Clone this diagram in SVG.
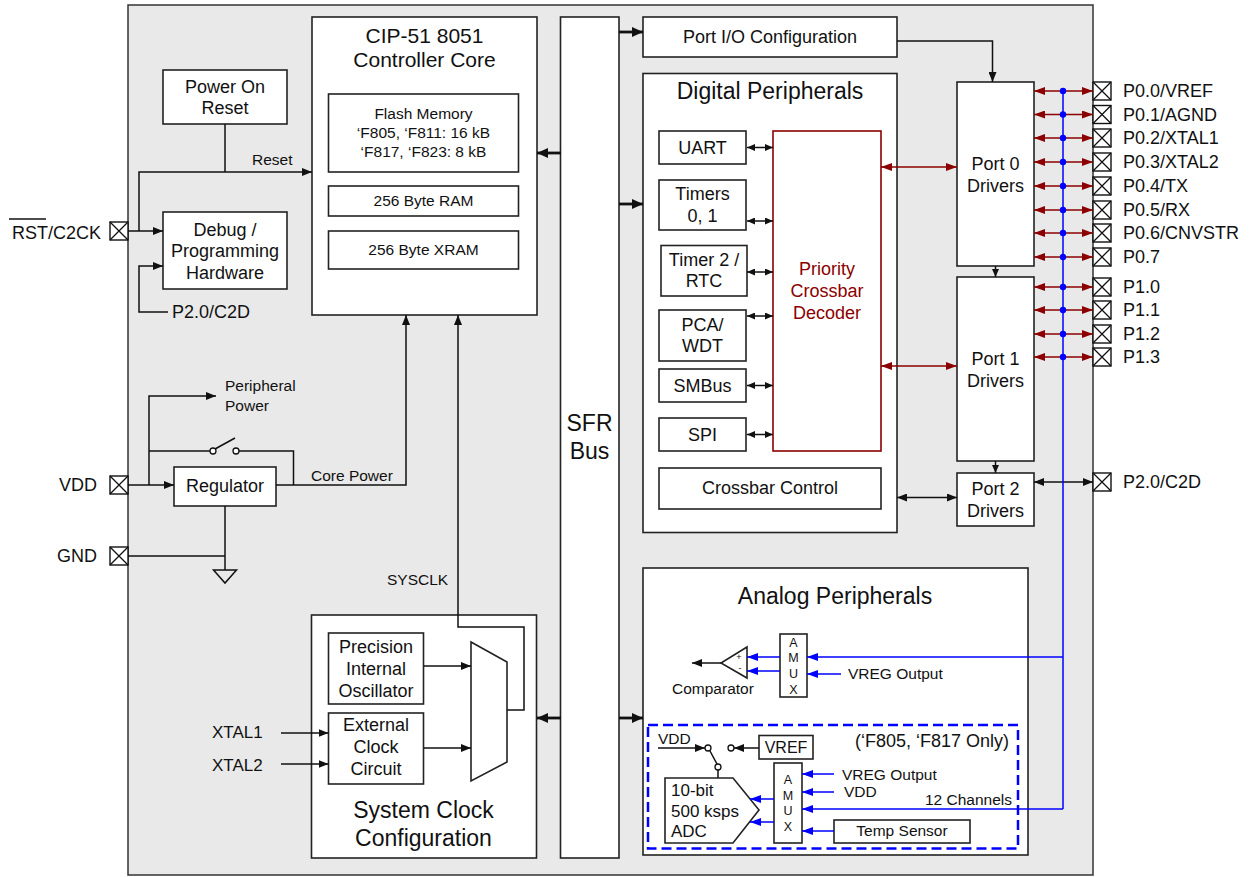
<svg xmlns="http://www.w3.org/2000/svg" width="1254" height="877" viewBox="0 0 1254 877">
<defs>
<style>
.box{fill:#fff;stroke:#222;stroke-width:1.6}
.ln{fill:none;stroke:#111;stroke-width:1.5}
.thick{fill:none;stroke:#111;stroke-width:2.8}
.red{fill:none;stroke:#8b0000;stroke-width:1.5}
.blue{fill:none;stroke:#0000ff;stroke-width:1.5}
.pin{fill:#fff;stroke:#111;stroke-width:1.4}
text{font-family:"Liberation Sans",Arial,sans-serif;fill:#111}
.t23{font-size:23px}
.t21{font-size:21px}
.t18{font-size:18px}
.t17{font-size:17px}
.t16{font-size:16px}
.t15{font-size:15.5px}
.t12{font-size:12.5px}
.c{text-anchor:middle}
.e{text-anchor:end}
.rt{fill:#8b0000}
</style>
<marker id="a" markerWidth="10" markerHeight="8" refX="10" refY="4" orient="auto-start-reverse" markerUnits="userSpaceOnUse"><path d="M0,0 L10,4 L0,8 z" fill="#111"/></marker>
<marker id="as" markerWidth="8" markerHeight="7" refX="8" refY="3.5" orient="auto-start-reverse" markerUnits="userSpaceOnUse"><path d="M0,0 L8,3.5 L0,7 z" fill="#111"/></marker>
<marker id="at" markerWidth="11" markerHeight="10" refX="11" refY="5" orient="auto-start-reverse" markerUnits="userSpaceOnUse"><path d="M0,0 L11,5 L0,10 z" fill="#111"/></marker>
<marker id="ar" markerWidth="11" markerHeight="8" refX="11" refY="4" orient="auto-start-reverse" markerUnits="userSpaceOnUse"><path d="M0,0 L11,4 L0,8 z" fill="#8b0000"/></marker>
<marker id="ab" markerWidth="11" markerHeight="8" refX="11" refY="4" orient="auto-start-reverse" markerUnits="userSpaceOnUse"><path d="M0,0 L11,4 L0,8 z" fill="#0000ff"/></marker>
<g id="pinx"><rect class="pin" x="0" y="0" width="18" height="18"/><path d="M0,0 L18,18 M18,0 L0,18" stroke="#111" stroke-width="1.3"/></g>
</defs>

<g id="chip"><rect x="128" y="5" width="965" height="870" fill="#e9e9e9" stroke="#333" stroke-width="1.5"/></g>

<g id="left-pins">
<use href="#pinx" x="110" y="222"/>
<use href="#pinx" x="110" y="476"/>
<use href="#pinx" x="110" y="547"/>
<text class="t18 e" x="101" y="239">RST/C2CK</text>
<path d="M9,219 H46" stroke="#111" stroke-width="1.3"/>
<text class="t18 e" x="97" y="491">VDD</text>
<text class="t18 e" x="97" y="562">GND</text>
</g>

<g id="cip51">
<rect class="box" x="312" y="17" width="225" height="298"/>
<text class="t21 c" x="424.5" y="43">CIP-51 8051</text>
<text class="t21 c" x="424.5" y="67">Controller Core</text>
<rect class="box" x="328.5" y="94" width="190" height="78"/>
<text class="t15 c" x="423.5" y="119">Flash Memory</text>
<text class="t15 c" x="423.5" y="138">‘F805, ‘F811: 16 kB</text>
<text class="t15 c" x="423.5" y="157">‘F817, ‘F823: 8 kB</text>
<rect class="box" x="328.5" y="186" width="190" height="30"/>
<text class="t15 c" x="423.5" y="206">256 Byte RAM</text>
<rect class="box" x="328.5" y="231" width="190" height="38"/>
<text class="t15 c" x="423.5" y="255">256 Byte XRAM</text>
</g>

<g id="por">
<rect class="box" x="163" y="70" width="124" height="54"/>
<text class="t18 c" x="225" y="93">Power On</text>
<text class="t18 c" x="225" y="114">Reset</text>
</g>

<g id="debug">
<rect class="box" x="163" y="212" width="124" height="77"/>
<text class="t18 c" x="225" y="236">Debug /</text>
<text class="t18 c" x="225" y="257">Programming</text>
<text class="t18 c" x="225" y="279">Hardware</text>
</g>

<g id="regulator">
<rect class="box" x="174" y="467" width="102" height="39"/>
<text class="t18 c" x="225" y="492">Regulator</text>
</g>

<g id="sysclk">
<rect class="box" x="311.5" y="615" width="225" height="243"/>
<text class="t23 c" x="423.5" y="818">System Clock</text>
<text class="t23 c" x="423.5" y="846">Configuration</text>
<rect class="box" x="328.5" y="633" width="95" height="71"/>
<text class="t18 c" x="376" y="653">Precision</text>
<text class="t18 c" x="376" y="675">Internal</text>
<text class="t18 c" x="376" y="697">Oscillator</text>
<rect class="box" x="328.5" y="713" width="95" height="71"/>
<text class="t18 c" x="376" y="731">External</text>
<text class="t18 c" x="376" y="753">Clock</text>
<text class="t18 c" x="376" y="775">Circuit</text>
<polygon class="box" points="471,642 507,662 507,762 471,781"/>
<text class="t17" x="212" y="738">XTAL1</text>
<text class="t17" x="212" y="771">XTAL2</text>
</g>

<g id="sfr">
<rect class="box" x="560.5" y="17" width="58.5" height="841"/>
<text class="t23 c" x="589.5" y="431">SFR</text>
<text class="t23 c" x="589.5" y="459">Bus</text>
</g>

<g id="portio">
<rect class="box" x="643" y="17" width="254" height="40"/>
<text class="t18 c" x="770" y="43">Port I/O Configuration</text>
</g>

<g id="digital">
<rect class="box" x="643" y="73.5" width="254" height="459"/>
<text class="t23 c" x="770" y="99">Digital Peripherals</text>
<rect class="box" x="659" y="131" width="87" height="33"/>
<text class="t18 c" x="702.5" y="153.5">UART</text>
<rect class="box" x="659" y="180" width="87" height="50"/>
<text class="t18 c" x="702.5" y="200">Timers</text>
<text class="t18 c" x="702.5" y="222">0, 1</text>
<rect class="box" x="661" y="245.5" width="86" height="50.5"/>
<text class="t18 c" x="704" y="265.5">Timer 2 /</text>
<text class="t18 c" x="704" y="287">RTC</text>
<rect class="box" x="659" y="310" width="87" height="51"/>
<text class="t18 c" x="702.5" y="331">PCA/</text>
<text class="t18 c" x="702.5" y="352">WDT</text>
<rect class="box" x="659" y="369" width="87" height="33"/>
<text class="t18 c" x="702.5" y="392">SMBus</text>
<rect class="box" x="659" y="418" width="87" height="33"/>
<text class="t18 c" x="702.5" y="441">SPI</text>
<rect x="773" y="131" width="108" height="320" fill="#fff" stroke="#8b0000" stroke-width="1.6"/>
<text class="t18 c rt" x="827" y="275">Priority</text>
<text class="t18 c rt" x="827" y="297">Crossbar</text>
<text class="t18 c rt" x="827" y="319">Decoder</text>
<rect class="box" x="659" y="468" width="222" height="41"/>
<text class="t18 c" x="770" y="494">Crossbar Control</text>
</g>

<g id="port0">
<rect class="box" x="957" y="82" width="77" height="184"/>
<text class="t18 c" x="995.5" y="170">Port 0</text>
<text class="t18 c" x="995.5" y="192">Drivers</text>
</g>
<g id="port1">
<rect class="box" x="957" y="277" width="77" height="184"/>
<text class="t18 c" x="995.5" y="365">Port 1</text>
<text class="t18 c" x="995.5" y="387">Drivers</text>
</g>
<g id="port2">
<rect class="box" x="957" y="473" width="77" height="53"/>
<text class="t18 c" x="995.5" y="495">Port 2</text>
<text class="t18 c" x="995.5" y="517">Drivers</text>
</g>

<g id="right-pins">
<use href="#pinx" x="1093" y="82"/>
<use href="#pinx" x="1093" y="105.5"/>
<use href="#pinx" x="1093" y="129"/>
<use href="#pinx" x="1093" y="153"/>
<use href="#pinx" x="1093" y="177"/>
<use href="#pinx" x="1093" y="201"/>
<use href="#pinx" x="1093" y="224"/>
<use href="#pinx" x="1093" y="248"/>
<use href="#pinx" x="1093" y="278"/>
<use href="#pinx" x="1093" y="301"/>
<use href="#pinx" x="1093" y="325"/>
<use href="#pinx" x="1093" y="348"/>
<use href="#pinx" x="1093" y="473"/>
<text class="t18" x="1123" y="97.3">P0.0/VREF</text>
<text class="t18" x="1123" y="120.8">P0.1/AGND</text>
<text class="t18" x="1123" y="144.3">P0.2/XTAL1</text>
<text class="t18" x="1123" y="168.3">P0.3/XTAL2</text>
<text class="t18" x="1123" y="192.3">P0.4/TX</text>
<text class="t18" x="1123" y="216.3">P0.5/RX</text>
<text class="t18" x="1123" y="239.3">P0.6/CNVSTR</text>
<text class="t18" x="1123" y="263.3">P0.7</text>
<text class="t18" x="1123" y="293.3">P1.0</text>
<text class="t18" x="1123" y="316.3">P1.1</text>
<text class="t18" x="1123" y="340.3">P1.2</text>
<text class="t18" x="1123" y="363.3">P1.3</text>
<text class="t18" x="1123" y="488.3">P2.0/C2D</text>
</g>

<g id="analog">
<rect class="box" x="643" y="568" width="385" height="287"/>
<text class="t23 c" x="835" y="604">Analog Peripherals</text>
<rect class="box" x="780" y="634" width="27" height="63"/>
<text class="t12 c" x="793.5" y="647">A</text>
<text class="t12 c" x="793.5" y="662">M</text>
<text class="t12 c" x="793.5" y="678">U</text>
<text class="t12 c" x="793.5" y="694">X</text>
<polygon class="box" points="747,647 747,678 721,663"/>
<text x="739" y="660" font-size="9" text-anchor="middle">+</text>
<text x="740" y="671" font-size="9" text-anchor="middle">-</text>
<text class="t15" x="672" y="694">Comparator</text>
<text class="t15" x="848" y="679">VREG Output</text>
<rect x="648" y="725" width="370" height="123.5" fill="none" stroke="#0000ff" stroke-width="2.5" stroke-dasharray="10,5"/>
<text class="t18 e" x="1009" y="747">(‘F805, ‘F817 Only)</text>
<text class="t15" x="658" y="744">VDD</text>
<circle cx="708" cy="748" r="3" fill="#fff" stroke="#111" stroke-width="1.3"/>
<circle cx="731" cy="748" r="3" fill="#fff" stroke="#111" stroke-width="1.3"/>
<circle cx="718" cy="767" r="3" fill="#fff" stroke="#111" stroke-width="1.3"/>
<path class="ln" d="M710,751 L717,764 M718,770 V778"/>
<rect class="box" x="759" y="735.5" width="54" height="23.5"/>
<text class="t16 c" x="786" y="753">VREF</text>
<polygon class="box" points="665,778 733,778 759,810 733,843 665,843"/>
<text class="t17" x="671" y="795.5">10-bit</text>
<text class="t17" x="671" y="816.5">500 ksps</text>
<text class="t17" x="671" y="836.5">ADC</text>
<rect class="box" x="774" y="763" width="28" height="80"/>
<text class="t12 c" x="788" y="784">A</text>
<text class="t12 c" x="788" y="800">M</text>
<text class="t12 c" x="788" y="815">U</text>
<text class="t12 c" x="788" y="831">X</text>
<text class="t15" x="842" y="780">VREG Output</text>
<text class="t15" x="844" y="797">VDD</text>
<text class="t15" x="925" y="805">12 Channels</text>
<rect class="box" x="834" y="820" width="136" height="23"/>
<text class="t15 c" x="902" y="836">Temp Sensor</text>
</g>

<g id="connectors">
<path class="ln" d="M128,231 H163" marker-end="url(#a)"/>
<path class="ln" d="M139,231 V172 H312" marker-end="url(#a)"/>
<path class="ln" d="M225,124 V172"/>
<text class="t15" x="252" y="165">Reset</text>
<path class="ln" d="M168,312 H139 V266 H163" marker-end="url(#a)"/>
<text class="t18" x="172" y="318">P2.0/C2D</text>
<path class="ln" d="M128,485 H174" marker-end="url(#a)"/>
<path class="ln" d="M149,485 V396 H216" marker-end="url(#a)"/>
<text class="t15" x="225" y="391">Peripheral</text>
<text class="t15" x="225" y="411">Power</text>
<path class="ln" d="M149,451 H210 M215,449 L235,438 M239,451 H293.5 V485"/>
<circle cx="213" cy="451" r="3" fill="#fff" stroke="#111" stroke-width="1.3"/>
<circle cx="236" cy="451" r="3" fill="#fff" stroke="#111" stroke-width="1.3"/>
<path class="ln" d="M276,485 H406 V315" marker-end="url(#a)"/>
<text class="t15" x="311" y="481">Core Power</text>
<path class="ln" d="M225,506 V570 M128,556 H225"/>
<path class="ln" d="M213.5,570 H236.5 L225,583 Z"/>
<text class="t15" x="387" y="585">SYSCLK</text>
<path class="ln" d="M507,710 H524 V627 H458 V315" marker-end="url(#a)"/>
<path class="ln" d="M424,666 H471" marker-end="url(#a)"/>
<path class="ln" d="M424,748 H471" marker-end="url(#a)"/>
<path class="ln" d="M281,733 H328.5" marker-end="url(#a)"/>
<path class="ln" d="M281,764 H328.5" marker-end="url(#a)"/>

<path class="thick" d="M619,32 H643" marker-end="url(#at)"/>
<path class="thick" d="M561,153 H537" marker-end="url(#at)"/>
<path class="thick" d="M619,204 H643" marker-end="url(#at)"/>
<path class="thick" d="M561,718 H537" marker-end="url(#at)"/>
<path class="thick" d="M619,718 H643" marker-end="url(#at)"/>

<path class="ln" d="M897,41 H992.5 V82" marker-end="url(#a)"/>
<path class="ln" d="M995.5,266 V277" marker-end="url(#as)"/>
<path class="ln" d="M995.5,461 V473" marker-end="url(#as)"/>

<path class="ln" d="M747,147.5 H773" marker-start="url(#as)" marker-end="url(#as)"/>
<path class="ln" d="M747,221 H773" marker-start="url(#as)" marker-end="url(#as)"/>
<path class="ln" d="M747,272 H773" marker-start="url(#as)" marker-end="url(#as)"/>
<path class="ln" d="M747,316 H773" marker-start="url(#as)" marker-end="url(#as)"/>
<path class="ln" d="M747,385.5 H773" marker-start="url(#as)" marker-end="url(#as)"/>
<path class="ln" d="M747,434.5 H773" marker-start="url(#as)" marker-end="url(#as)"/>

<path class="red" d="M881,167 H957" marker-start="url(#ar)" marker-end="url(#ar)"/>
<path class="red" d="M881,366 H957" marker-start="url(#ar)" marker-end="url(#ar)"/>
<path class="ln" d="M897,497.5 H957" marker-start="url(#a)" marker-end="url(#a)"/>

<path class="red" d="M1034,91 H1093" marker-start="url(#ar)" marker-end="url(#ar)"/>
<path class="red" d="M1034,114.5 H1093" marker-start="url(#ar)" marker-end="url(#ar)"/>
<path class="red" d="M1034,138 H1093" marker-start="url(#ar)" marker-end="url(#ar)"/>
<path class="red" d="M1034,162 H1093" marker-start="url(#ar)" marker-end="url(#ar)"/>
<path class="red" d="M1034,186 H1093" marker-start="url(#ar)" marker-end="url(#ar)"/>
<path class="red" d="M1034,210 H1093" marker-start="url(#ar)" marker-end="url(#ar)"/>
<path class="red" d="M1034,233 H1093" marker-start="url(#ar)" marker-end="url(#ar)"/>
<path class="red" d="M1034,257 H1093" marker-start="url(#ar)" marker-end="url(#ar)"/>
<path class="red" d="M1034,287 H1093" marker-start="url(#ar)" marker-end="url(#ar)"/>
<path class="red" d="M1034,310 H1093" marker-start="url(#ar)" marker-end="url(#ar)"/>
<path class="red" d="M1034,334 H1093" marker-start="url(#ar)" marker-end="url(#ar)"/>
<path class="red" d="M1034,357 H1093" marker-start="url(#ar)" marker-end="url(#ar)"/>
<path class="ln" d="M1034,482 H1093" marker-start="url(#a)" marker-end="url(#a)"/>

<path class="blue" d="M1063,91 V809"/>
<g fill="#0000ff">
<circle cx="1063" cy="91" r="3.2"/><circle cx="1063" cy="114.5" r="3.2"/><circle cx="1063" cy="138" r="3.2"/><circle cx="1063" cy="162" r="3.2"/>
<circle cx="1063" cy="186" r="3.2"/><circle cx="1063" cy="210" r="3.2"/><circle cx="1063" cy="233" r="3.2"/><circle cx="1063" cy="257" r="3.2"/>
<circle cx="1063" cy="287" r="3.2"/><circle cx="1063" cy="310" r="3.2"/><circle cx="1063" cy="334" r="3.2"/><circle cx="1063" cy="357" r="3.2"/>
</g>
<path class="blue" d="M1063,657 H807" marker-end="url(#ab)"/>
<path class="blue" d="M841,674 H807" marker-end="url(#ab)"/>
<path class="blue" d="M780,657 H747" marker-end="url(#ab)"/>
<path class="blue" d="M780,671 H747" marker-end="url(#ab)"/>
<path class="ln" d="M721,663 H692" marker-end="url(#a)"/>
<path class="ln" d="M658,748 H705" marker-end="url(#a)"/>
<path class="ln" d="M759,748 H734" marker-end="url(#a)"/>
<path class="blue" d="M774,799 H750" marker-end="url(#ab)"/>
<path class="blue" d="M774,822 H750" marker-end="url(#ab)"/>
<path class="blue" d="M834,774 H802" marker-end="url(#ab)"/>
<path class="blue" d="M834,792 H802" marker-end="url(#ab)"/>
<path class="blue" d="M1063,809 H802" marker-end="url(#ab)"/>
<path class="blue" d="M834,831 H802" marker-end="url(#ab)"/>
</g>
</svg>
